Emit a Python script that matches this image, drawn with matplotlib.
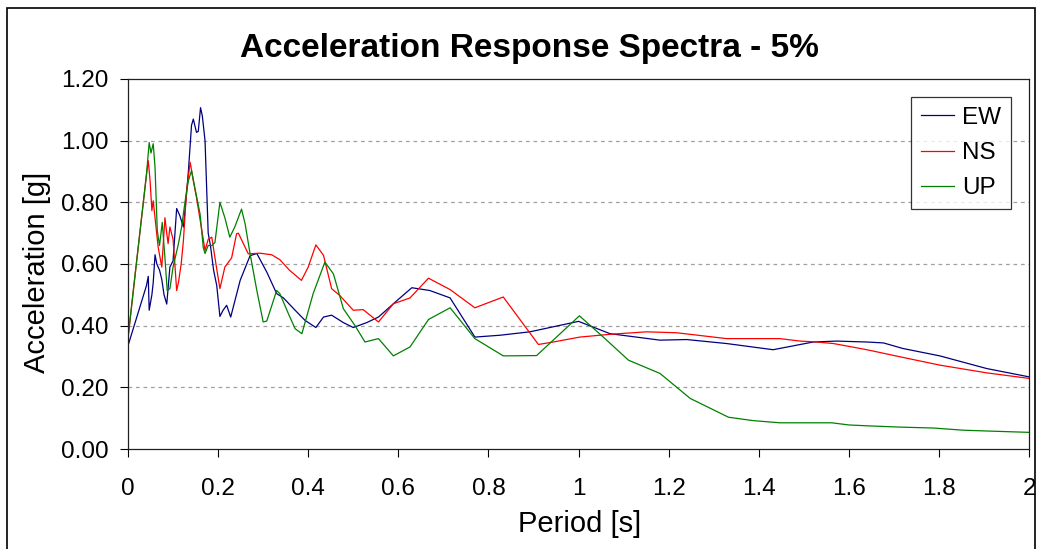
import matplotlib
matplotlib.use("Agg")
import matplotlib.pyplot as plt
from matplotlib.patches import Rectangle

plt.rcParams['font.family'] = ['Liberation Sans', 'DejaVu Sans']

ew_t = [0.0, 0.02, 0.041, 0.045, 0.047, 0.053, 0.056, 0.06, 0.064, 0.07, 0.075, 0.08, 0.086, 0.093,
        0.1, 0.108, 0.115, 0.123, 0.13, 0.134, 0.141, 0.145, 0.152, 0.156, 0.161, 0.165, 0.171,
        0.178, 0.183, 0.19, 0.197, 0.204, 0.211, 0.219, 0.228, 0.249, 0.271, 0.286, 0.308, 0.33,
        0.345, 0.371, 0.393, 0.417, 0.434, 0.452, 0.478, 0.50, 0.53, 0.556, 0.596, 0.63, 0.67,
        0.715, 0.77, 0.826, 0.892, 1.0, 1.07, 1.181, 1.24, 1.329, 1.432, 1.521, 1.573, 1.64,
        1.677, 1.72, 1.802, 1.906, 2.0]
ew_a = [0.335, 0.43, 0.53, 0.56, 0.45, 0.5, 0.54, 0.63, 0.6, 0.58, 0.55, 0.5, 0.47, 0.59,
        0.61, 0.78, 0.757, 0.72, 0.828, 0.90, 1.05, 1.07, 1.027, 1.03, 1.107, 1.08, 1.0,
        0.70, 0.66, 0.58, 0.53, 0.43, 0.45, 0.466, 0.428, 0.547, 0.627, 0.634, 0.574, 0.504,
        0.49, 0.45, 0.417, 0.394, 0.428, 0.434, 0.41, 0.394, 0.41, 0.428, 0.48, 0.523, 0.514,
        0.49, 0.363, 0.369, 0.38, 0.414, 0.374, 0.353, 0.355, 0.342, 0.322, 0.347, 0.35, 0.347,
        0.344, 0.326, 0.302, 0.261, 0.234]

ns_t = [0.0, 0.02, 0.041, 0.045, 0.049, 0.053, 0.056, 0.06, 0.067, 0.075, 0.082, 0.086, 0.089,
        0.093, 0.1, 0.104, 0.108, 0.112, 0.118, 0.123, 0.13, 0.138, 0.145, 0.152, 0.164, 0.171,
        0.178, 0.186, 0.193, 0.204, 0.215, 0.23, 0.241, 0.245, 0.267, 0.293, 0.319, 0.337, 0.359,
        0.385, 0.40, 0.417, 0.434, 0.452, 0.47, 0.50, 0.522, 0.556, 0.589, 0.626, 0.667, 0.715,
        0.77, 0.833, 0.911, 0.944, 1.003, 1.07, 1.151, 1.218, 1.329, 1.447, 1.492, 1.529, 1.566,
        1.64, 1.714, 1.802, 1.906, 2.0]
ns_a = [0.358, 0.62, 0.89, 0.935, 0.87, 0.773, 0.805, 0.75, 0.654, 0.59, 0.75, 0.7, 0.666,
        0.72, 0.68, 0.6, 0.514, 0.54, 0.6, 0.676, 0.838, 0.93, 0.87, 0.816, 0.708, 0.644,
        0.68, 0.687, 0.62, 0.52, 0.59, 0.62, 0.698, 0.70, 0.633, 0.635, 0.63, 0.614, 0.579,
        0.547, 0.59, 0.662, 0.628, 0.52, 0.498, 0.45, 0.452, 0.412, 0.471, 0.49, 0.554, 0.517,
        0.458, 0.493, 0.339, 0.347, 0.363, 0.372, 0.38, 0.377, 0.358, 0.358, 0.35, 0.347, 0.342,
        0.322, 0.299, 0.272, 0.247, 0.229]

up_t = [0.0, 0.02, 0.041, 0.047, 0.051, 0.056, 0.06, 0.065, 0.07, 0.076, 0.082, 0.087, 0.093,
        0.1, 0.112, 0.119, 0.127, 0.134, 0.141, 0.148, 0.16, 0.167, 0.171, 0.178, 0.186, 0.193,
        0.204, 0.215, 0.226, 0.237, 0.252, 0.26, 0.271, 0.286, 0.30, 0.308, 0.33, 0.337, 0.356,
        0.371, 0.386, 0.411, 0.437, 0.456, 0.478, 0.504, 0.526, 0.556, 0.589, 0.626, 0.667,
        0.715, 0.77, 0.833, 0.907, 1.002, 1.055, 1.111, 1.181, 1.248, 1.333, 1.388, 1.447, 1.562,
        1.6, 1.644, 1.714, 1.788, 1.854, 1.914, 2.0]
up_a = [0.362, 0.62, 0.89, 0.994, 0.96, 0.99, 0.913, 0.708, 0.66, 0.735, 0.62, 0.514, 0.52,
        0.59, 0.666, 0.72, 0.806, 0.87, 0.903, 0.85, 0.762, 0.654, 0.634, 0.66, 0.66, 0.67,
        0.80, 0.75, 0.687, 0.72, 0.778, 0.73, 0.633, 0.514, 0.412, 0.415, 0.514, 0.504, 0.439,
        0.39, 0.374, 0.504, 0.606, 0.568, 0.455, 0.40, 0.347, 0.358, 0.302, 0.331, 0.42,
        0.458, 0.358, 0.302, 0.303, 0.432, 0.363, 0.288, 0.245, 0.164, 0.103, 0.092, 0.085, 0.085,
        0.078, 0.075, 0.071, 0.068, 0.061, 0.058, 0.054]

x_ticks = [0, 0.2, 0.4, 0.6, 0.8, 1.0, 1.2, 1.4, 1.6, 1.8, 2.0]
x_labels = ['0', '0.2', '0.4', '0.6', '0.8', '1', '1.2', '1.4', '1.6', '1.8', '2']
y_ticks = [0.0, 0.2, 0.4, 0.6, 0.8, 1.0, 1.2]
y_labels = ['0.00', '0.20', '0.40', '0.60', '0.80', '1.00', '1.20']

W, H = 1038, 549
fig = plt.figure(figsize=(W / 100, H / 100), dpi=100)
ax = fig.add_axes([128 / W, 1 - 449 / H, (1029 - 128) / W, (449 - 79) / H])

ax.plot(ew_t, ew_a, color='#000080', lw=0.9, label='EW')
ax.plot(ns_t, ns_a, color='#ff0000', lw=0.9, label='NS')
ax.plot(up_t, up_a, color='#008000', lw=0.9, label='UP')

ax.set_xlim(0, 2)
ax.set_ylim(0, 1.2)
ax.set_xticks(x_ticks)
ax.set_xticklabels(x_labels)
ax.set_yticks(y_ticks)
ax.set_yticklabels(y_labels)
ax.tick_params(axis='both', direction='out', length=6, width=0.8, labelsize=17.5, colors='black')
ax.tick_params(axis='y', pad=8)
ax.tick_params(axis='x', pad=15)
for g in y_ticks[1:-1]:
  ax.axhline(g, color='#a0a0a0', lw=0.9, ls=(0, (3, 3)), zorder=0)
for s in ax.spines.values():
  s.set_linewidth(0.9)
  s.set_color('#202020')

leg = ax.legend(loc='upper left', bbox_to_anchor=((911 - 128) / 901, (449 - 97) / 370),
                borderaxespad=0, fontsize=17.5, frameon=True, fancybox=False,
                handlelength=1.35, handletextpad=0.35, labelspacing=0.55,
                borderpad=0.4)
leg.get_frame().set_edgecolor('black')
leg.get_frame().set_linewidth(0.9)

fig.text(529.5 / W, 1 - 49 / H, 'Acceleration Response Spectra - 5%', ha='center', va='center',
         fontsize=24, fontweight='bold')
fig.text(37 / W, 1 - 272 / H, 'Acceleration [g]', ha='center', va='center', rotation=90,
         fontsize=21)
fig.text(580 / W, 1 - 524 / H, 'Period [s]', ha='center', va='center', fontsize=21)

# outer chart frame
fig.add_artist(Rectangle((6.5 / W, -0.05), (1035 - 6.5) / W, 1.05 - 8 / H,
                         transform=fig.transFigure, fill=False, lw=1.2, edgecolor='black'))

fig.savefig('out.png', dpi=100)
